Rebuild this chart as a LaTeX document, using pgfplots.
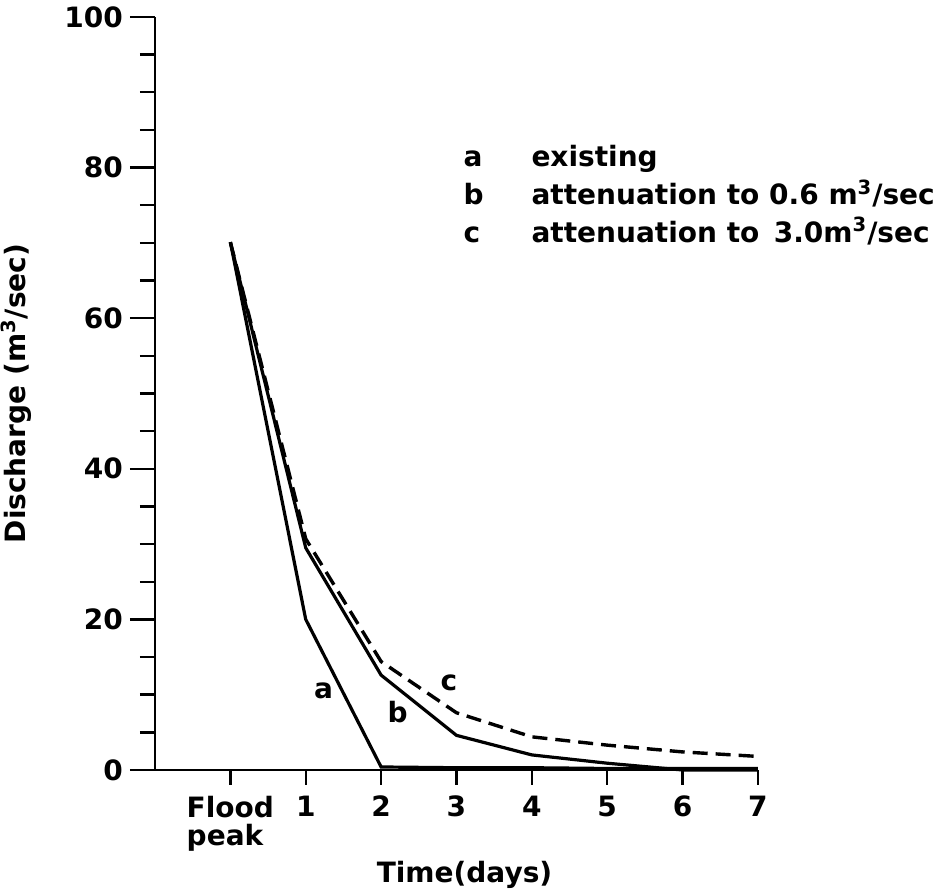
\documentclass[border=0pt]{standalone}
\usepackage{fontspec}
\setmainfont{DejaVu Sans}
\usepackage{pgfplots}
\pgfplotsset{compat=1.18}
\begin{document}
\begin{tikzpicture}[font=\fontsize{14}{18}\selectfont\bfseries]
\useasboundingbox (-77.5pt,-61.5pt) rectangle (389.5pt,385pt);
\begin{axis}[
  width=301.5pt, height=376.5pt, scale only axis,
  at={(0pt,0pt)}, anchor=south west,
  xmin=-1, xmax=7, ymin=0, ymax=100,
  axis x line=bottom, axis y line=left,
  axis line style={-, line width=1.2pt},
  tick style={line width=1.2pt, black},
  tick align=outside,
  major tick length=7.5pt, minor tick length=7.5pt,
  ytick={0,20,40,60,80,100},
  yticklabels={},
  extra y ticks={0,20,40,60,80,100},
  extra y tick style={major tick length=12.5pt},
  minor ytick={5,10,15,25,30,35,45,50,55,65,70,75,85,90,95},
  xtick={0,1,2,3,4,5,6,7},
  xticklabels={{Flood\\peak},1,2,3,4,5,6,7},
  xticklabel style={align=left, anchor=north, yshift=-2pt, font=\fontsize{14}{14}\selectfont\bfseries},
  /pgf/number format/assume math mode=true,
  xlabel={Time(days)},
  ylabel={Discharge (m\textsuperscript{3}/sec)},
  xlabel style={yshift=2pt, xshift=4pt},
  ylabel style={yshift=2pt},
  clip=false,
]
\addplot[black, line width=1.6pt] coordinates {
 (0,70.1) (1,20.0) (2,0.4) (3,0.3) (4,0.3) (5,0.2) (6,0.2) (7,0.2)};
\addplot[black, line width=1.6pt] coordinates {
 (0,70.1) (1,29.5) (2,12.6) (3,4.6) (4,2.0) (5,0.9) (6,0.0) (7,0.0)};
\addplot[black, line width=1.7pt, dash pattern=on 7.5pt off 4pt] coordinates {
 (0,70.1) (1,30.7) (2,14.4) (3,7.6) (4,4.4) (5,3.3) (6,2.4) (7,1.8)};
\node at (axis cs:1.235,10.5) {a};
\node at (axis cs:2.22,7.7) {b};
\node at (axis cs:2.9,11.6) {c};
\node[anchor=base west, inner sep=0pt] at (axis cs:3.09,80.1) {a};
\node[anchor=base west, inner sep=0pt] at (axis cs:3.09,75.1) {b};
\node[anchor=base west, inner sep=0pt] at (axis cs:3.09,70.1) {c};
\node[anchor=base west, inner sep=0pt] at (axis cs:3.99,80.1) {existing};
\node[anchor=base west, inner sep=0pt] at (axis cs:3.99,75.1) {attenuation to 0.6 m\textsuperscript{3}/sec};
\node[anchor=base west, inner sep=0pt] at (axis cs:3.99,70.1) {attenuation to \,3.0m\textsuperscript{3}/sec};
\end{axis}
\end{tikzpicture}
\end{document}
